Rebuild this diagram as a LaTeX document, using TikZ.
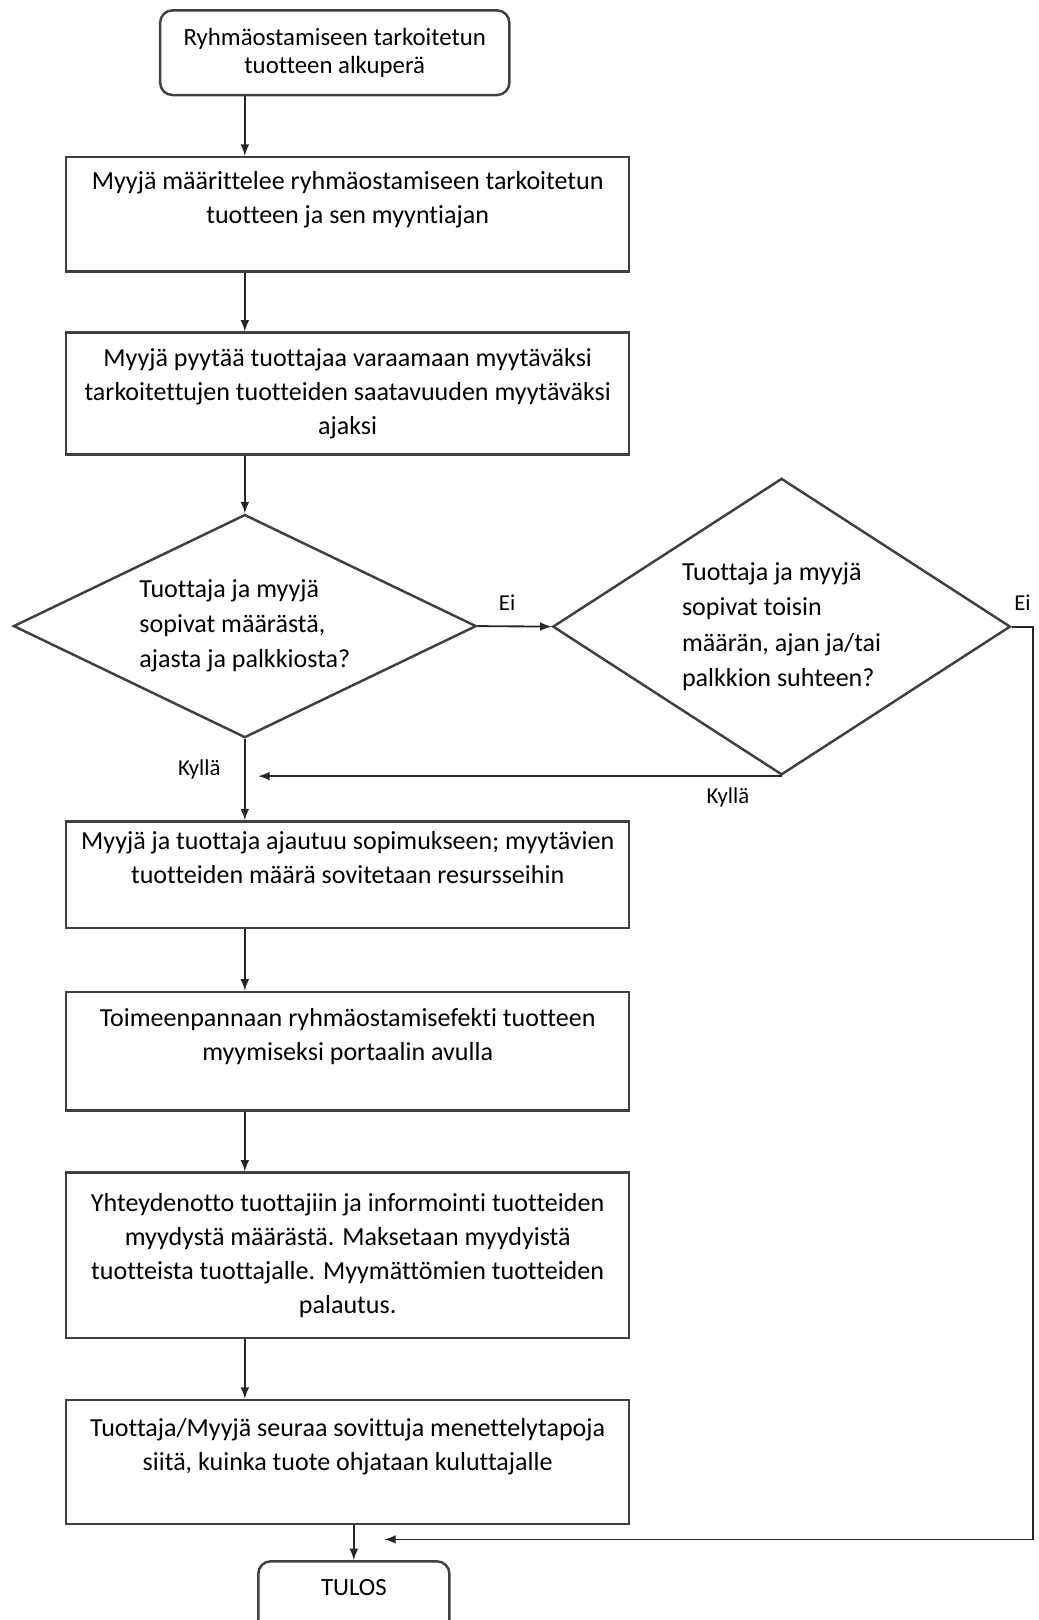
\documentclass[tikz,border=0pt]{standalone}
\usepackage{fontspec}
\setmainfont{Carlito}[Ligatures=CommonOff]
\usetikzlibrary{shapes.geometric}
\begin{document}
\begin{tikzpicture}[x=0.5pt, y=-0.5pt, style={
    blob/.style={
      draw=black!75,
      line width=1.2pt,
      align=center,
      font=\fontsize{12.6}{16.5}\selectfont,
    },
    startstyle/.style={
      blob, rectangle,
      rounded corners=6pt,
      minimum width=169pt,
      minimum height=41pt,
      font=\fontsize{12}{13.5}\selectfont,
    },
    stepstyle/.style={
      blob, rectangle,
      minimum width=272.5pt,
    },
    choicestyle/.style={
      blob, diamond,
      inner sep=0pt,
      align=left,
      font=\fontsize{12.6}{17}\selectfont,
    },
    labelstyle/.style={
      font=\fontsize{11}{13}\selectfont,
    },
    myarrow/.style={-latex, line width=0.9pt, draw=black!85}
  }]
  \useasboundingbox (0,0) rectangle (1005,1568);
  \draw[]
    node[startstyle] (origin) at (324,51) {
      Ryhmäostamiseen tarkoitetun\\tuotteen alkuperä
    }
    node[stepstyle, minimum height=55.5pt] (define) at (336.5,207.5) {
      Myyjä määrittelee ryhmäostamiseen tarkoitetun\\
      tuotteen ja sen myyntiajan\\~
    }
    node[stepstyle, minimum height=59pt] (reserve) at (336.5,381) {
      Myyjä pyytää tuottajaa varaamaan myytäväksi\\
      tarkoitettujen tuotteiden saatavuuden myytäväksi\\
      ajaksi
    }
    node[choicestyle, minimum width=224pt, minimum height=108pt,
      shape aspect=2.07] (agree) at (237,606) {
      Tuottaja ja myyjä\\
      sopivat määrästä,\\
      ajasta ja palkkiosta?
    }
    node[choicestyle, minimum width=221.5pt, minimum height=143.5pt,
      shape aspect=1.54] (renegotiate) at (756.5,606.5) {
      Tuottaja ja myyjä\\
      sopivat toisin\\
      määrän, ajan ja/tai\\
      palkkion suhteen?
    }
    node[stepstyle, minimum height=51.5pt] (contract) at (336.5,846.5) {
      Myyjä ja tuottaja ajautuu sopimukseen; myytävien\\
      tuotteiden määrä sovitetaan resursseihin\\~
    }
    node[stepstyle, minimum height=57.5pt] (execute) at (336.5,1017.5) {
      Toimeenpannaan ryhmäostamisefekti tuotteen\\
      myymiseksi portaalin avulla\\~
    }
    node[stepstyle, minimum height=80pt] (settle) at (336.5,1215) {
      Yhteydenotto tuottajiin ja informointi tuotteiden\\
      myydystä määrästä. Maksetaan myydyistä\\
      tuotteista tuottajalle. Myymättömien tuotteiden\\
      palautus.
    }
    node[stepstyle, minimum height=60pt] (follow) at (336.5,1415) {
      Tuottaja/Myyjä seuraa sovittuja menettelytapoja\\
      siitä, kuinka tuote ohjataan kuluttajalle\\~
    }
    node[startstyle, minimum width=92.5pt, minimum height=35pt,
      text depth=10pt, anchor=north] (result) at (342.5,1510) {TULOS}
  ;
  \coordinate (loop) at (1000,1490);
  \coordinate (back) at (372,1490);
  % main line
  \draw[myarrow] (origin.south -| agree) -- (define.north -| agree);
  \draw[myarrow] (define.south -| agree) -- (reserve.north -| agree);
  \draw[myarrow] (reserve.south -| agree) -- (agree.north);
  \draw[myarrow]
    (agree.south) -- (contract.north -| agree)
    node[pos=0.38, left=8pt, labelstyle] {Kyllä}
  ;
  \draw[myarrow] (contract.south -| agree) -- (execute.north -| agree);
  \draw[myarrow] (execute.south -| agree) -- (settle.north -| agree);
  \draw[myarrow] (settle.south -| agree) -- (follow.north -| agree);
  \draw[myarrow] (follow.south -| result) -- (result.north);
  % side branch
  \draw[myarrow]
    (agree.east) -- (renegotiate.west)
    node[pos=0.4, above=4pt, labelstyle] {Ei}
  ;
  \draw[myarrow, shorten >=6.5pt]
    (renegotiate.south) -- (renegotiate.south -| agree)
    node[pos=0.1, below=2pt, labelstyle] {Kyllä}
  ;
  \draw[myarrow]
    (renegotiate.east) -| (loop)
    node[pos=0.25, above=4pt, labelstyle] {Ei}
    -- (back)
  ;
\end{tikzpicture}
\end{document}
